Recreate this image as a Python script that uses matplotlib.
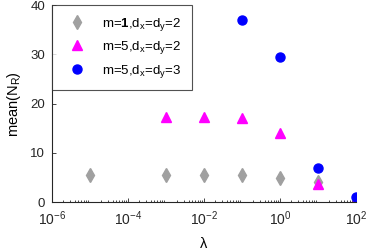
import matplotlib
matplotlib.use("Agg")
import matplotlib.pyplot as plt
from matplotlib.ticker import LogLocator, NullFormatter

plt.rcParams['font.family'] = ['Liberation Sans', 'DejaVu Sans']
plt.rcParams['mathtext.fontset'] = 'custom'
plt.rcParams['mathtext.rm'] = 'Liberation Sans'
plt.rcParams['mathtext.it'] = 'Liberation Sans'
plt.rcParams['mathtext.bf'] = 'Liberation Sans:bold'

lam_m1 = [1e-5, 1e-3, 1e-2, 1e-1, 1, 10]
nr_m1 = [5.5, 5.5, 5.5, 5.5, 4.9, 4.1]
lam_m5d2 = [1e-3, 1e-2, 1e-1, 1, 10, 100]
nr_m5d2 = [17.3, 17.3, 17.1, 14.1, 3.7, 0.4]
lam_m5d3 = [1e-1, 1, 10, 100]
nr_m5d3 = [36.9, 29.4, 7.0, 1.0]
labels = [r'm=$\mathbf{1}$,d$_x$=d$_y$=2', r'm=5,d$_x$=d$_y$=2', r'm=5,d$_x$=d$_y$=3']

fig = plt.figure(figsize=(3.68, 2.52), dpi=100)
ax = fig.add_axes([0.141, 0.198, 0.826, 0.782])

ax.plot(lam_m1, nr_m1, linestyle='none', marker='d', color='#a0a0a0', markersize=7, label=labels[0])
ax.plot(lam_m5d2, nr_m5d2, linestyle='none', marker='^', color='#ff00ff', markersize=6.5, label=labels[1])
ax.plot(lam_m5d3, nr_m5d3, linestyle='none', marker='o', color='#0000ff', markersize=6.5, label=labels[2])

ax.set_xscale('log')
ax.set_xlim(1e-6, 1e2)
ax.set_ylim(0, 40)
ax.set_xticks([1e-6, 1e-4, 1e-2, 1e0, 1e2])
ax.xaxis.set_minor_locator(LogLocator(base=10, subs=range(2, 10), numticks=20))
ax.xaxis.set_minor_formatter(NullFormatter())
ax.set_yticks([0, 10, 20, 30, 40])
ax.tick_params(direction='in', labelsize=10, length=3, width=0.6, colors='#262626', pad=5)
ax.tick_params(axis='y', labelsize=9.5)
ax.tick_params(which='minor', direction='in', length=1.5, width=0.5)
for s in ['top', 'right']:
    ax.spines[s].set_visible(False)
for s in ['left', 'bottom']:
    ax.spines[s].set_linewidth(0.8)
    ax.spines[s].set_color('#262626')

ax.set_xlabel('λ', fontsize=10.5, labelpad=7)
ax.set_ylabel(r'mean(N$_R$)', fontsize=10.5, labelpad=5)

leg = ax.legend(loc='upper left', fontsize=9.5, frameon=True, fancybox=False,
                edgecolor='#262626', borderpad=0.8, labelspacing=0.5,
                handlelength=2.2, handletextpad=0.8, borderaxespad=0.0, numpoints=1)
leg.get_frame().set_linewidth(0.8)

fig.savefig('out.png', dpi=100)
